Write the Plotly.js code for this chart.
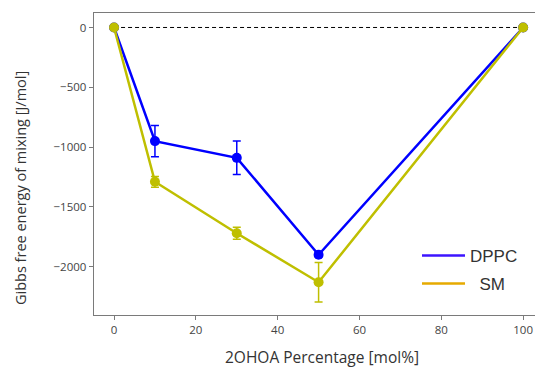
<!DOCTYPE html>
<html>
<head>
<meta charset="utf-8">
<script src="https://cdn.plot.ly/plotly-3.0.1.min.js"></script>
<style>
  html, body { margin: 0; padding: 0; background: #fff; }
  #chart { width: 535px; height: 371px; }
</style>
</head>
<body>
<div id="chart"></div>
<script>
// 2OHOA content of the membrane, mol%
const percent = [0, 10, 30, 50, 100];

// Gibbs free energy of mixing, J/mol, with standard errors
const dppcEnergy = [0, -950, -1090, -1900, 0];
const dppcError  = [0, 130, 140, 20, 0];
const smEnergy   = [0, -1290, -1720, -2130, 0];
const smError    = [0, 45, 50, 165, 0];

// Ideal-mixing reference line
const refX = [0, 100];
const refY = [0, 0];

const seriesNames = ['DPPC', 'SM'];
const xTitle = '2OHOA Percentage [mol%]';
const yTitle = 'Gibbs free energy of mixing [J/mol]';

const blue = '#0000ff';
const olive = '#bfbf00';

const traces = [
  {
    x: refX, y: refY, mode: 'lines', showlegend: false, hoverinfo: 'skip',
    line: { color: '#000', width: 1, dash: '4px,3px' }
  },
  {
    x: percent, y: dppcEnergy, mode: 'lines+markers', name: seriesNames[0],
    showlegend: false,
    line: { color: blue, width: 2.5 },
    marker: { color: blue, size: 10 },
    error_y: { type: 'data', array: dppcError, visible: true, color: blue, thickness: 1.5, width: 4 }
  },
  {
    x: percent, y: smEnergy, mode: 'lines+markers', name: seriesNames[1],
    showlegend: false,
    line: { color: olive, width: 2.5 },
    marker: { color: olive, size: 10 },
    error_y: { type: 'data', array: smError, visible: true, color: olive, thickness: 1.5, width: 4 }
  },
  // legend keys
  {
    x: [null], y: [null], mode: 'lines', name: seriesNames[0], legend: 'legend',
    line: { color: '#3c14ff', width: 2.5 }
  },
  {
    x: [null], y: [null], mode: 'lines', name: '\u00a0\u00a0' + seriesNames[1], legend: 'legend2',
    line: { color: '#e6aa00', width: 2.5 }
  }
];

const axisGrey = '#7a7a7a';
const tickFont = { family: 'Open Sans, sans-serif', size: 11.5, color: '#444' };
const legendFont = { family: 'Liberation Sans, Arial, sans-serif', size: 17, color: '#333' };

const layout = {
  width: 535, height: 371,
  margin: { l: 94, r: 0, t: 13, b: 56, pad: 0 },
  paper_bgcolor: '#fff', plot_bgcolor: '#fff',
  showlegend: true,
  xaxis: {
    range: [-4.9, 102.9], tickvals: [0, 20, 40, 60, 80, 100],
    showgrid: false, zeroline: false,
    showline: true, mirror: true, linecolor: axisGrey, linewidth: 1.3,
    ticks: 'outside', ticklen: 4, tickcolor: axisGrey, tickwidth: 1,
    tickfont: tickFont
  },
  yaxis: {
    range: [-2404, 121], tickvals: [0, -500, -1000, -1500, -2000],
    showgrid: false, zeroline: false,
    showline: true, mirror: false, linecolor: axisGrey, linewidth: 1.3,
    ticks: 'outside', ticklen: 4, tickcolor: axisGrey, tickwidth: 1,
    tickfont: tickFont
  },
  // axis titles, centred on the full (partly clipped) axes frame
  annotations: [
    {
      text: xTitle, xref: 'paper', yref: 'paper',
      x: (322 - 94) / 441, y: (315 - 357) / 302, xanchor: 'center', yanchor: 'middle',
      showarrow: false, font: { family: 'Open Sans, sans-serif', size: 15.5, color: '#333' }
    },
    {
      text: yTitle, xref: 'paper', yref: 'paper', textangle: -90,
      x: (20 - 94) / 441, y: (315 - 188) / 302, xanchor: 'center', yanchor: 'middle',
      showarrow: false, font: { family: 'Open Sans, sans-serif', size: 14.5, color: '#333' }
    }
  ],
  legend: {
    x: (417 - 94) / 441, xanchor: 'left', y: (315 - 256) / 302, yanchor: 'middle',
    bgcolor: 'rgba(0,0,0,0)', borderwidth: 0, itemwidth: 43, font: legendFont
  },
  legend2: {
    x: (417 - 94) / 441, xanchor: 'left', y: (315 - 284) / 302, yanchor: 'middle',
    bgcolor: 'rgba(0,0,0,0)', borderwidth: 0, itemwidth: 43, font: legendFont
  }
};

Plotly.newPlot('chart', traces, layout, { displayModeBar: false, staticPlot: true });
</script>
</body>
</html>
